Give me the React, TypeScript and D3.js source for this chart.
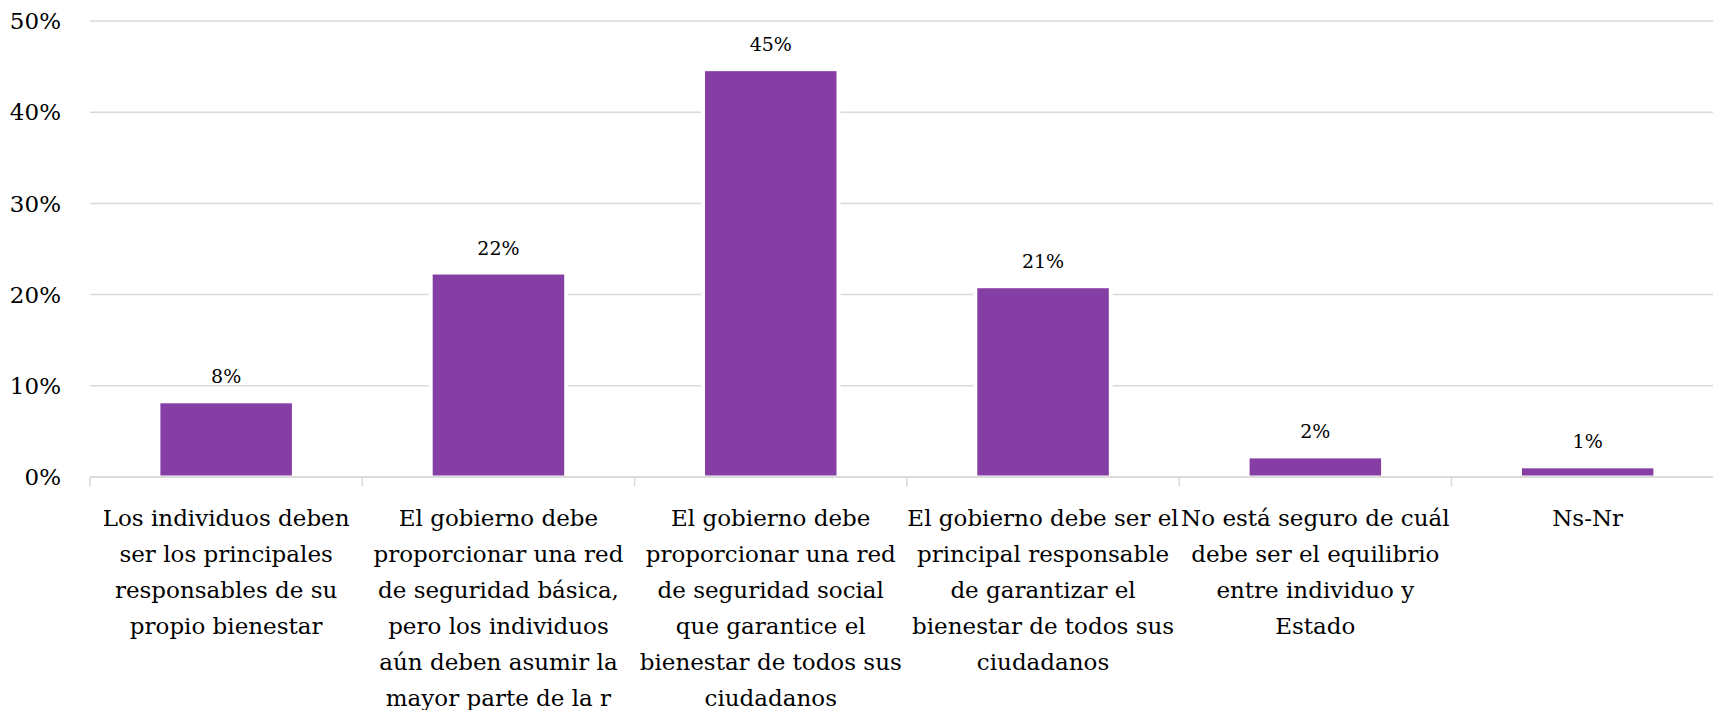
import React from "react";
import * as d3 from "d3";

const categories: string[][] = [
  ["Los individuos deben", "ser los principales", "responsables de su", "propio bienestar"],
  ["El gobierno debe", "proporcionar una red", "de seguridad básica,", "pero los individuos", "aún deben asumir la", "mayor parte de la r"],
  ["El gobierno debe", "proporcionar una red", "de seguridad social", "que garantice el", "bienestar de todos sus", "ciudadanos"],
  ["El gobierno debe ser el", "principal responsable", "de garantizar el", "bienestar de todos sus", "ciudadanos"],
  ["No está seguro de cuál", "debe ser el equilibrio", "entre individuo y", "Estado"],
  ["Ns-Nr"],
];
const values: number[] = [8.08, 22.2, 44.5, 20.7, 2.04, 0.95];
const yTicks: number[] = [0, 10, 20, 30, 40, 50];

const W = 1713;
const H = 710;
const FONT = "'DejaVu Serif', serif";

export default function App() {
  const left = 90;
  const band = 272.3;
  const x = d3
    .scaleBand<number>()
    .domain(d3.range(categories.length))
    .range([left, left + band * categories.length])
    .paddingInner(0.517)
    .paddingOuter(0.2585);
  const y = d3.scaleLinear().domain([0, 50]).range([477, 21]);
  const y0 = y(0);
  const bw = x.bandwidth();
  const barColor = "#853fa4";
  const grid = "#d9d9d9";

  return (
    <svg
      width={W}
      height={H}
      style={{ position: "absolute", left: 0, top: 0, background: "#fff" }}
      fontFamily={FONT}
    >
      <rect x={0} y={0} width={W} height={H} fill="#fff" />
      {yTicks.map((t) => (
        <g key={t}>
          <line x1={left} x2={left + band * categories.length} y1={y(t)} y2={y(t)} stroke={grid} strokeWidth={1.5} />
          <text x={61} y={y(t)} dy="0.36em" textAnchor="end" fontSize={23} fill="#000">
            {t}%
          </text>
        </g>
      ))}
      {values.map((v, i) => {
        const bx = x(i) as number;
        return (
          <g key={i}>
            <rect x={bx - 4} y={y(v) - 2} width={bw + 8} height={y0 - y(v) + 1} fill="#fff" />
            <rect x={bx} y={y(v)} width={bw} height={y0 - y(v) - 1.5} fill={barColor} />
            <text x={bx + bw / 2} y={y(v) - 20} textAnchor="middle" fontSize={19} fill="#000">
              {Math.round(v)}%
            </text>
          </g>
        );
      })}
      <line x1={left} x2={left + band * categories.length} y1={y0} y2={y0} stroke={grid} strokeWidth={1.5} />
      {d3.range(categories.length + 1).map((i) => (
        <line key={i} x1={left + i * band} x2={left + i * band} y1={y0} y2={y0 + 9.5} stroke={grid} strokeWidth={1.5} />
      ))}
      {categories.map((lines, i) => {
        const cx = (x(i) as number) + bw / 2;
        return (
          <text key={i} x={cx} y={525.5} textAnchor="middle" fontSize={23} fill="#000">
            {lines.map((ln, j) => (
              <tspan key={j} x={cx} y={525.5 + j * 36}>
                {ln}
              </tspan>
            ))}
          </text>
        );
      })}
    </svg>
  );
}
